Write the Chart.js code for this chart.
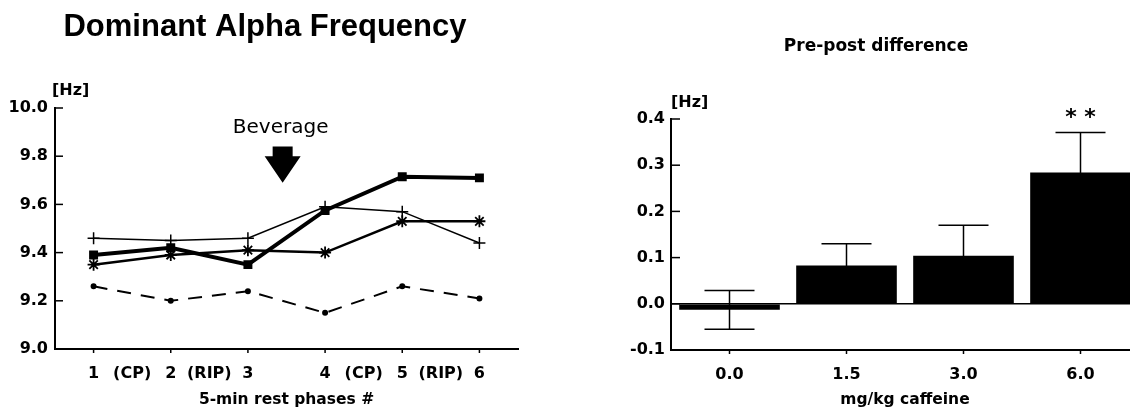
<!DOCTYPE html>
<html lang="en">
<head>
  <meta charset="UTF-8" />
  <title>Dominant Alpha Frequency</title>
  <script src="https://cdn.jsdelivr.net/npm/chart.js@4"></script>
  <style>
    body {
      margin: 0;
      background: #ffffff;
      overflow: hidden;
      width: 1130px;
      height: 411px;
      position: relative;
    }
    canvas {
      position: absolute;
      top: 0;
    }
    #alphaChart { left: 0; }
    #diffChart { left: 600px; }
  </style>
</head>
<body>
  <canvas id="alphaChart" width="560" height="411"></canvas>
  <canvas id="diffChart" width="560" height="411"></canvas>

  <script>
    // rest phases (x) and the four group curves
    const phases = [1, 2, 3, 4, 5, 6];
    const phaseNotes = { 1.5: '(CP)', 2.5: '(RIP)', 4.5: '(CP)', 5.5: '(RIP)' };
    const groupSquare = [9.39, 9.42, 9.35, 9.575, 9.715, 9.71];
    const groupPlus = [9.46, 9.45, 9.46, 9.59, 9.57, 9.44];
    const groupStar = [9.35, 9.39, 9.41, 9.40, 9.53, 9.53];
    const groupDash = [9.26, 9.20, 9.24, 9.15, 9.26, 9.21];

    // caffeine doses and pre-post difference (mean, error)
    const doses = ['0.0', '1.5', '3.0', '6.0'];
    const diffMean = [-0.013, 0.083, 0.104, 0.284];
    const diffErr = [0.042, 0.047, 0.066, 0.087];
    const diffMarks = ['', '', '', '* *'];

    // where the beverage arrow sits, in data units
    const beverage = { x: 3.45, top: 9.84, neck: 9.80, tip: 9.69 };

    const tickFont = { family: 'DejaVu Sans', weight: 'bold', size: 16 };
    const titleFont = { family: 'DejaVu Sans', weight: 'bold', size: 15.5 };

    const pts = vals => vals.map((v, i) => ({ x: phases[i], y: v }));

    function line(ctx, x1, y1, x2, y2) {
      ctx.beginPath();
      ctx.moveTo(x1, y1);
      ctx.lineTo(x2, y2);
      ctx.stroke();
    }

    const alphaDecor = {
      id: 'alphaDecor',
      afterDraw(chart) {
        const { ctx, chartArea: a, scales: { x, y } } = chart;
        ctx.save();
        ctx.strokeStyle = '#000';
        ctx.fillStyle = '#000';
        ctx.lineWidth = 1.5;
        // inward ticks on y, short ticks under x
        y.ticks.forEach(t => {
          const py = y.getPixelForValue(t.value);
          line(ctx, a.left, py, a.left + 8, py);
        });
        phases.forEach(p => {
          const px = x.getPixelForValue(p);
          line(ctx, px, a.bottom, px, a.bottom + 4);
        });

        ctx.font = 'bold 31px "Liberation Sans"';
        ctx.textAlign = 'center';
        ctx.textBaseline = 'alphabetic';
        ctx.fillText('Dominant Alpha Frequency', 265, 36);

        ctx.font = 'bold 16px "DejaVu Sans"';
        ctx.textAlign = 'left';
        ctx.textBaseline = 'middle';
        ctx.fillText('[Hz]', a.left - 3, a.top - 17);

        // beverage arrow
        const cx = x.getPixelForValue(beverage.x);
        const yTop = y.getPixelForValue(beverage.top);
        const yNeck = y.getPixelForValue(beverage.neck);
        const yTip = y.getPixelForValue(beverage.tip);
        ctx.beginPath();
        ctx.moveTo(cx - 10, yTop);
        ctx.lineTo(cx + 10, yTop);
        ctx.lineTo(cx + 10, yNeck);
        ctx.lineTo(cx + 18, yNeck);
        ctx.lineTo(cx, yTip);
        ctx.lineTo(cx - 18, yNeck);
        ctx.lineTo(cx - 10, yNeck);
        ctx.closePath();
        ctx.fill();

        ctx.font = '20px "DejaVu Sans"';
        ctx.textAlign = 'center';
        ctx.textBaseline = 'alphabetic';
        ctx.fillText('Beverage', cx - 2, yTop - 14);
        ctx.restore();
      }
    };

    new Chart(document.getElementById('alphaChart'), {
      type: 'line',
      data: {
        datasets: [
          {
            data: pts(groupSquare), borderColor: '#000', backgroundColor: '#000',
            borderWidth: 4, pointStyle: 'rect', pointRadius: 3.5, order: 0
          },
          {
            data: pts(groupPlus), borderColor: '#000', backgroundColor: '#000',
            borderWidth: 1.5, pointStyle: 'cross', pointRadius: 6, pointBorderWidth: 1.5, order: 2
          },
          {
            data: pts(groupStar), borderColor: '#000', backgroundColor: '#000',
            borderWidth: 2.5, pointStyle: 'star', pointRadius: 6, pointBorderWidth: 1.8, order: 1
          },
          {
            data: pts(groupDash), borderColor: '#000', backgroundColor: '#000',
            borderWidth: 2, borderDash: [14, 10], pointRadius: 2, order: 3
          }
        ]
      },
      options: {
        responsive: false,
        animation: false,
        layout: { padding: { top: 108, right: 42, left: 0, bottom: 0 } },
        plugins: { legend: { display: false }, tooltip: { enabled: false } },
        scales: {
          x: {
            type: 'linear', min: 0.5, max: 6.5,
            afterFit: s => { s.height = 62; },
            grid: { display: false, drawTicks: false },
            border: { color: '#000', width: 2 },
            ticks: {
              stepSize: 0.5, autoSkip: false, maxRotation: 0, padding: 15,
              color: '#000', font: tickFont,
              callback: v => Number.isInteger(v) && v >= 1 ? String(v) : (phaseNotes[v] || '')
            },
            title: {
              display: true, text: '5-min rest phases #', color: '#000',
              font: titleFont, padding: { top: 0, bottom: 2 }
            }
          },
          y: {
            min: 9.0, max: 10.0,
            afterFit: s => { s.width = 55; },
            grid: { display: false, drawTicks: false },
            border: { color: '#000', width: 2 },
            ticks: { stepSize: 0.2, padding: 7, color: '#000', font: tickFont, callback: v => v.toFixed(1) }
          }
        }
      },
      plugins: [alphaDecor]
    });

    const diffDecor = {
      id: 'diffDecor',
      afterDatasetsDraw(chart) {
        const { ctx, scales: { y } } = chart;
        const bars = chart.getDatasetMeta(0).data;
        ctx.save();
        ctx.strokeStyle = '#000';
        ctx.fillStyle = '#000';
        ctx.lineWidth = 1.5;
        bars.forEach((bar, i) => {
          const hi = y.getPixelForValue(diffMean[i] + diffErr[i]);
          const lo = y.getPixelForValue(diffMean[i] - diffErr[i]);
          line(ctx, bar.x, hi, bar.x, lo);
          line(ctx, bar.x - 25, hi, bar.x + 25, hi);
          line(ctx, bar.x - 25, lo, bar.x + 25, lo);
          if (diffMarks[i]) {
            ctx.font = 'bold 22px "DejaVu Sans"';
            ctx.textAlign = 'center';
            ctx.textBaseline = 'alphabetic';
            ctx.fillText(diffMarks[i], bar.x, hi - 8);
          }
        });
        ctx.restore();
      },
      afterDraw(chart) {
        const { ctx, chartArea: a, scales: { x, y } } = chart;
        ctx.save();
        ctx.strokeStyle = '#000';
        ctx.fillStyle = '#000';
        ctx.lineWidth = 1.5;
        y.ticks.forEach(t => {
          const py = y.getPixelForValue(t.value);
          line(ctx, a.left, py, a.left + 9, py);
        });
        doses.forEach((d, i) => {
          const px = x.getPixelForValue(i);
          line(ctx, px, a.bottom, px, a.bottom + 4);
        });
        ctx.font = 'bold 17px "DejaVu Sans"';
        ctx.textAlign = 'center';
        ctx.textBaseline = 'middle';
        ctx.fillText('Pre-post difference', 276, 47);
        ctx.font = 'bold 16px "DejaVu Sans"';
        ctx.textAlign = 'left';
        ctx.fillText('[Hz]', a.left, a.top - 16);
        ctx.restore();
      }
    };

    new Chart(document.getElementById('diffChart'), {
      type: 'bar',
      data: {
        labels: doses,
        datasets: [{
          data: diffMean, backgroundColor: '#000', borderWidth: 0,
          barPercentage: 0.86, categoryPercentage: 1
        }]
      },
      options: {
        responsive: false,
        animation: false,
        layout: { padding: { top: 119, right: 21, left: 0, bottom: 0 } },
        plugins: { legend: { display: false }, tooltip: { enabled: false } },
        scales: {
          x: {
            afterFit: s => { s.height = 61; },
            grid: { display: false, drawTicks: false },
            border: { color: '#000', width: 2 },
            ticks: { padding: 15, color: '#000', font: tickFont, maxRotation: 0 },
            title: {
              display: true, text: 'mg/kg caffeine', color: '#000',
              font: titleFont, padding: { top: 0, bottom: 2 }
            }
          },
          y: {
            min: -0.1, max: 0.4,
            afterFit: s => { s.width = 71; },
            grid: {
              drawTicks: false,
              lineWidth: 1.5,
              color: c => Math.abs(c.tick.value) < 1e-9 ? '#000' : 'rgba(0,0,0,0)'
            },
            border: { color: '#000', width: 2 },
            ticks: { stepSize: 0.1, padding: 6, color: '#000', font: tickFont, callback: v => v.toFixed(1) }
          }
        }
      },
      plugins: [diffDecor]
    });
  </script>
</body>
</html>
